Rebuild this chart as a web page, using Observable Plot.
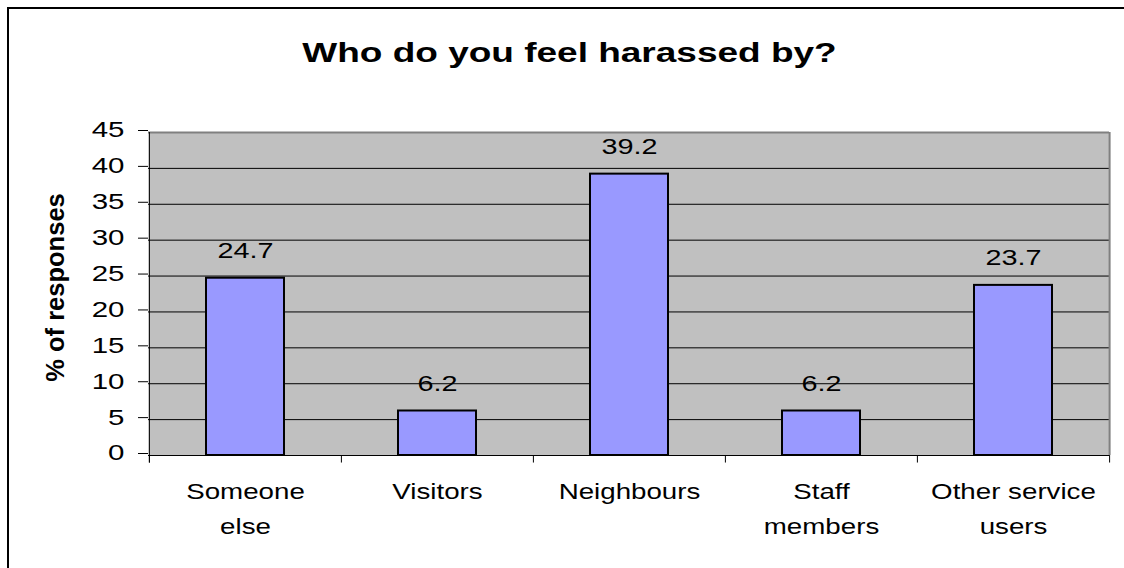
<!DOCTYPE html>
<html>
<head>
<meta charset="utf-8">
<script src="https://cdn.jsdelivr.net/npm/d3@7"></script>
<script src="https://cdn.jsdelivr.net/npm/@observablehq/plot@0.6"></script>
<style>
  html, body { margin: 0; padding: 0; background: #fff; overflow: hidden; }
  #wrap { position: relative; width: 1124px; height: 568px; overflow: hidden; }
  #border { position: absolute; left: 7px; top: 7px; width: 3000px; height: 3000px;
            border-left: 2px solid #000; border-top: 2px solid #000; }
  #chart { position: absolute; left: 0; top: 0; }
  #chart svg { display: block; }
</style>
</head>
<body>
<div id="wrap"><div id="border"></div><div id="chart"></div></div>
<script>
const title = "Who do you feel harassed by?";
const yLabel = "% of responses";
const categories = ["Someone else", "Visitors", "Neighbours", "Staff members", "Other service users"];
const categoryLabels = ["Someone\nelse", "Visitors", "Neighbours", "Staff\nmembers", "Other service\nusers"];
const values = [24.7, 6.2, 39.2, 6.2, 23.7];
const yTicks = [0, 5, 10, 15, 20, 25, 30, 35, 40, 45];

const data = categories.map((c, i) => ({category: c, label: categoryLabels[i], value: values[i]}));

const W = 1124, H = 568;
const mL = 148, mR = 15, mT = 132, mB = 113;
const bw = (W - mL - mR) / categories.length;
const font = "'Liberation Sans', Arial, sans-serif";

const chart = Plot.plot({
  width: W, height: H,
  marginLeft: mL, marginRight: mR, marginTop: mT, marginBottom: mB,
  style: {fontFamily: font, fontSize: "21px", color: "#000", background: "transparent", overflow: "visible"},
  x: {domain: categories, padding: 0, axis: null},
  y: {domain: [0, 45], nice: false, axis: null},
  marks: [
    Plot.frame({fill: "#C0C0C0", stroke: null}),
    Plot.ruleY(yTicks.filter(d => d > 0 && d < 45), {stroke: "#000", strokeWidth: 1}),
    Plot.ruleY([45], {stroke: "#808080", strokeWidth: 2}),
    Plot.ruleX([categories[categories.length - 1]], {dx: bw / 2, y1: 0, y2: 45, stroke: "#808080", strokeWidth: 2}),
    Plot.barY(data, {x: "category", y: "value", fill: "#9999FF", stroke: "#000", strokeWidth: 2, insetLeft: 57, insetRight: 57}),
    Plot.ruleY([0], {stroke: "#000", strokeWidth: 1}),
    Plot.ruleX(categories, {x: d => d, dx: -bw / 2, y1: -1.05, y2: 45, stroke: "#000", strokeWidth: 1, filter: (d, i) => i === 0}),
    Plot.ruleX(categories, {x: d => d, dx: -bw / 2, y1: -1.05, y2: 0, stroke: "#000", strokeWidth: 1}),
    Plot.ruleX([categories[categories.length - 1]], {dx: bw / 2, y1: -1.05, y2: 0, stroke: "#000", strokeWidth: 1}),
    Plot.axisY({ticks: yTicks, tickSize: 10, tickPadding: 14, fontSize: 21.5, dy: -2, tickFormat: d => String(d), label: null}),
    Plot.text(data, {x: "category", y: "value", text: d => d.value.toFixed(1), dy: -27.5, fontSize: 22, fill: "#000"}),
    Plot.text(data, {x: "category", text: "label", frameAnchor: "bottom", lineAnchor: "top", dy: 18.8, lineHeight: 1.59, fontSize: 22, fill: "#000"}),
    Plot.text([title], {text: d => d, frameAnchor: "top", lineAnchor: "top", dx: 569 - (mL + (W - mL - mR) / 2), dy: -89.5, fontSize: 27, fontWeight: "bold", fill: "#000"}),
    Plot.text([yLabel], {text: d => d, frameAnchor: "left", textAnchor: "middle", rotate: -90, dx: -93, dy: -6.5, fontSize: 25.5, fontWeight: "bold", fill: "#000"})
  ]
});

// The reference renders horizontal text noticeably wider than Arial; widen glyphs about each text's anchor.
function stretch(texts, s) {
  texts.forEach(t => {
    const tr = t.getAttribute("transform") || "";
    const xa = t.getAttribute("x");
    let pre = "";
    if (xa !== null && /^-?[\d.]+$/.test(xa.trim())) {
      pre = ` translate(${+xa},0)`;
      t.removeAttribute("x");
    }
    t.setAttribute("transform", `${tr}${pre} scale(${s},1)`);
  });
}
stretch(chart.querySelectorAll('g[aria-label="y-axis tick label"] text'), 1.37);
const textGroups = chart.querySelectorAll('g[aria-label="text"]');
if (textGroups.length >= 3) {
  stretch(textGroups[0].querySelectorAll(":scope > text"), 1.31); // value labels
  stretch(textGroups[1].querySelectorAll(":scope > text"), 1.26); // category labels
  stretch(textGroups[2].querySelectorAll(":scope > text"), 1.37); // title
}

document.getElementById("chart").appendChild(chart);
</script>
</body>
</html>
